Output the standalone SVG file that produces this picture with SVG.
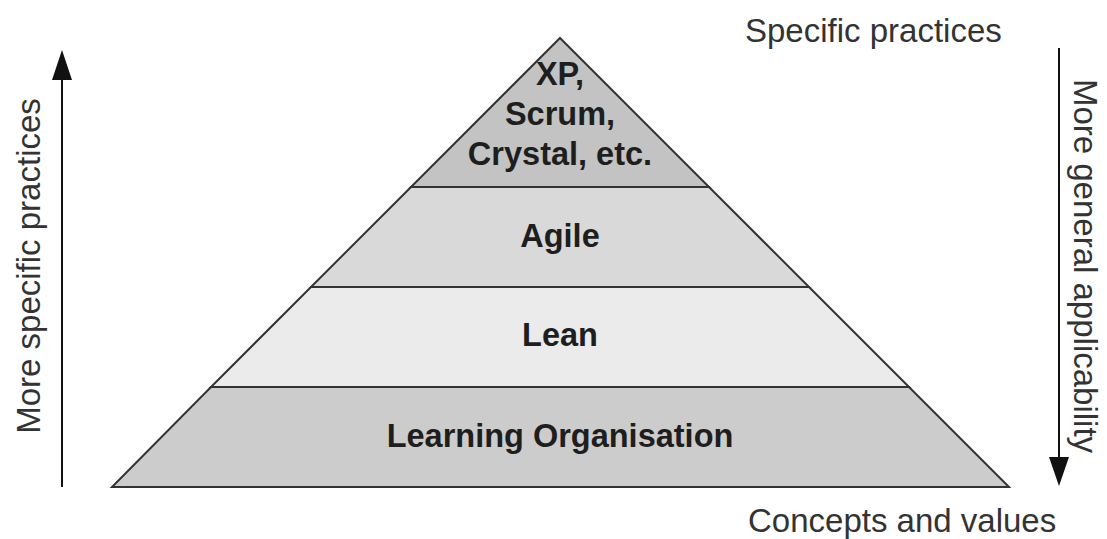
<svg xmlns="http://www.w3.org/2000/svg" width="1107" height="539" viewBox="0 0 1107 539">
  <style>
    .tier { stroke: #333; stroke-width: 2; stroke-linejoin: miter; }
    .tier-label { font-family: "Liberation Sans", Arial, sans-serif; font-weight: bold; font-size: 32.5px; fill: #1e1e1e; text-anchor: middle; }
    .axis-label { font-family: "Liberation Sans", Arial, sans-serif; font-size: 33px; fill: #333; }
    .axis { stroke: #111; stroke-width: 2; fill: none; }
  </style>

  <rect width="1107" height="539" fill="#fff"/>

  <!-- pyramid tiers, top to bottom -->
  <g id="tier-methods">
    <polygon class="tier" points="560,38 709,187 411,187" fill="#c3c3c3"/>
    <text class="tier-label" x="560" y="85">XP,</text>
    <text class="tier-label" x="560" y="125">Scrum,</text>
    <text class="tier-label" x="560" y="165">Crystal, etc.</text>
  </g>
  <g id="tier-agile">
    <polygon class="tier" points="411,187 709,187 809,287 311,287" fill="#d9d9d9"/>
    <text class="tier-label" x="560" y="247">Agile</text>
  </g>
  <g id="tier-lean">
    <polygon class="tier" points="311,287 809,287 909,387 211,387" fill="#ebebeb"/>
    <text class="tier-label" x="560" y="346">Lean</text>
  </g>
  <g id="tier-learning">
    <polygon class="tier" points="211,387 909,387 1009,487 112,487" fill="#cccccc"/>
    <text class="tier-label" x="560" y="447">Learning Organisation</text>
  </g>

  <!-- side axes -->
  <g id="connectors">
    <line class="axis" x1="62" y1="487" x2="62" y2="80"/>
    <path d="M52,80 L62,50 L72,80 Z" fill="#111"/>
    <line class="axis" x1="1059" y1="48" x2="1059" y2="457"/>
    <path d="M1049,457 L1059,486 L1069,457 Z" fill="#111"/>
  </g>

  <g id="labels">
    <text class="axis-label" x="745" y="42">Specific practices</text>
    <text class="axis-label" x="748" y="532">Concepts and values</text>
    <text class="axis-label" text-anchor="middle" transform="translate(40,266) rotate(-90)">More specific practices</text>
    <text class="axis-label" text-anchor="middle" transform="translate(1074,266) rotate(90)">More general applicability</text>
  </g>
</svg>
